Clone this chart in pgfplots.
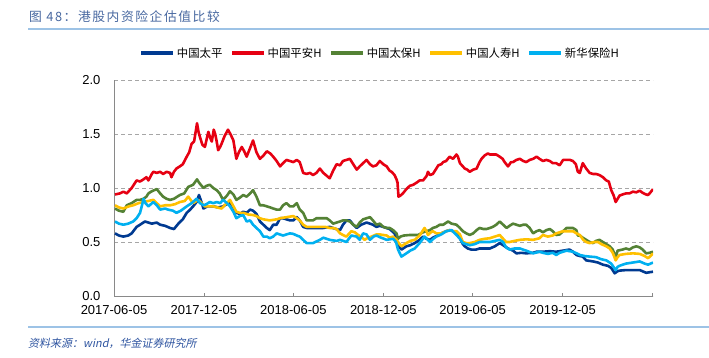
\documentclass[border=0pt]{standalone}
\usepackage{fontspec}
\usepackage{pgfplots}
\pgfplotsset{compat=1.18}
\setmainfont{Liberation Sans}
\newfontfamily\cjk{Noto Sans CJK SC}
\newfontfamily\cjktitle[LetterSpace=12]{Noto Sans CJK SC}
\newfontfamily\cjkit[FakeSlant=0.2]{Noto Sans CJK SC}
\definecolor{cTP}{RGB}{0,58,145}
\definecolor{cPA}{RGB}{230,0,18}
\definecolor{cTB}{RGB}{84,130,53}
\definecolor{cRS}{RGB}{255,192,0}
\definecolor{cXH}{RGB}{0,176,240}
\definecolor{titlec}{RGB}{72,104,160}
\definecolor{rulec}{RGB}{157,195,230}
\definecolor{srcc}{RGB}{46,84,160}
\definecolor{axc}{RGB}{137,137,137}
\definecolor{gridc}{RGB}{166,166,166}
\begin{document}
\begin{tikzpicture}
\path[use as bounding box] (0pt,0pt) rectangle (709pt,357pt);
\node[anchor=west,inner sep=0pt,text=titlec] at (29pt,340pt) {\cjktitle\fontsize{12.8}{14}\selectfont 图 48：港股内资险企估值比较};
\draw[rulec,line width=1.6pt] (28pt,328pt) -- (709pt,328pt);
\draw[rulec,line width=1.6pt] (28pt,30pt) -- (709pt,30pt);
\node[anchor=west,inner sep=0pt,text=srcc] at (28pt,14pt) {\cjkit\fontsize{11}{13}\selectfont 资料来源：wind，华金证券研究所};
\begin{axis}[
  at={(114pt,61pt)}, anchor=south west,
  scale only axis, width=539pt, height=216pt,
  xmin=0, xmax=1097, ymin=0, ymax=2,
  axis x line*=bottom, axis y line*=left,
  axis line style={axc,line width=0.8pt},
  xtick={0,183,365,548,730,913,1096},
  xticklabels={2017-06-05,2017-12-05,2018-06-05,2018-12-05,2019-06-05,2019-12-05,{}},
  ytick={0,0.5,1,1.5,2},
  /pgf/number format/assume math mode=true,
  yticklabel style={/pgf/number format/fixed,/pgf/number format/fixed zerofill,/pgf/number format/precision=1,xshift=-10pt},
  tick label style={font=\fontsize{13}{15}\selectfont},
  xticklabel style={yshift=-6pt},
  tick align=inside,
  x tick style={axc,line width=0.8pt}, major tick length=3pt,
  y tick style={draw=none},
  ymajorgrids,
  major grid style={gridc,dash pattern=on 4pt off 3pt,line width=0.9pt},
  legend columns=5,
  legend style={at={(0.494,1.125)},anchor=center,draw=none,fill=none,
    font=\cjk\fontsize{11.4}{13}\selectfont,
    /tikz/every even column/.append style={column sep=6pt},
    inner sep=0pt},
  legend image code/.code={\draw[#1,line width=3.2pt] (0pt,0pt) -- (32pt,0pt);},
  every axis plot/.append style={line width=2.6pt,line join=round},
]
% 中国太平
\addplot[cTP] coordinates {
(2,0.58)(10,0.56)(19,0.55)(29,0.56)(36,0.58)(46,0.64)(53,0.66)(63,0.69)(70,0.68)(77,0.67)
(87,0.68)(94,0.66)(104,0.65)(114,0.63)(122,0.62)(131,0.67)(140,0.71)(148,0.77)(155,0.80)(161,0.83)
(168,0.87)(173,0.935)(178,0.87)(182,0.81)(190,0.83)(202,0.83)(212,0.82)(222,0.83)(236,0.87)(243,0.82)
(249,0.77)(256,0.76)(263,0.78)(270,0.77)(277,0.80)(283,0.79)(290,0.76)(297,0.69)(304,0.66)(311,0.63)
(317,0.61)(324,0.66)(331,0.66)(338,0.72)(344,0.72)(358,0.70)(365,0.70)(372,0.73)(378,0.70)(385,0.64)
(392,0.63)(405,0.63)(419,0.63)(426,0.63)(439,0.64)(452,0.62)(460,0.61)(466,0.66)(473,0.70)(480,0.70)
(487,0.66)(494,0.63)(503,0.66)(514,0.68)(521,0.67)(527,0.66)(534,0.64)(541,0.65)(548,0.64)(561,0.62)
(571,0.58)(578,0.47)(585,0.43)(595,0.46)(603,0.47)(612,0.49)(622,0.52)(629,0.55)(636,0.53)(643,0.52)
(649,0.54)(656,0.555)(666,0.58)(676,0.60)(683,0.61)(690,0.60)(697,0.59)(704,0.535)(710,0.48)(714,0.46)
(720,0.44)(727,0.43)(737,0.43)(744,0.44)(755,0.44)(765,0.44)(775,0.46)(785,0.49)(792,0.47)(802,0.44)
(812,0.42)(819,0.395)(829,0.40)(839,0.395)(853,0.40)(860,0.41)(873,0.41)(887,0.415)(900,0.41)(914,0.42)
(927,0.43)(934,0.41)(941,0.38)(948,0.37)(954,0.365)(961,0.33)(975,0.32)(985,0.31)(995,0.29)(1005,0.28)
(1012,0.26)(1019,0.21)(1025,0.23)(1029,0.235)(1042,0.24)(1056,0.24)(1070,0.24)(1083,0.215)(1090,0.22)(1097,0.225)
};
\addlegendentry{中国太平}
% 中国平安H
\addplot[cPA] coordinates {
(2,0.94)(12,0.95)(19,0.966)(26,0.95)(36,1.00)(46,1.07)(53,1.06)(60,1.08)(66,1.10)(70,1.07)
(77,1.13)(80,1.15)(87,1.14)(94,1.15)(100,1.13)(107,1.15)(114,1.14)(117,1.10)(122,1.15)(127,1.18)
(134,1.20)(140,1.22)(148,1.29)(153,1.33)(158,1.41)(163,1.43)(169,1.60)(172,1.52)(175,1.47)(180,1.40)
(185,1.38)(190,1.48)(192,1.52)(197,1.45)(199,1.43)(203,1.54)(206,1.50)(209,1.43)(212,1.35)(216,1.38)
(219,1.41)(225,1.48)(232,1.54)(238,1.49)(243,1.44)(249,1.27)(254,1.33)(260,1.38)(265,1.34)(270,1.29)
(277,1.37)(283,1.44)(290,1.33)(297,1.27)(304,1.30)(311,1.34)(318,1.32)(324,1.29)(331,1.25)(338,1.20)
(344,1.23)(351,1.26)(358,1.25)(365,1.24)(372,1.26)(378,1.24)(385,1.14)(392,1.13)(399,1.14)(405,1.12)
(412,1.14)(419,1.18)(426,1.14)(439,1.09)(446,1.16)(453,1.22)(460,1.21)(466,1.25)(473,1.26)(480,1.27)
(487,1.22)(494,1.17)(500,1.20)(507,1.23)(514,1.26)(521,1.22)(527,1.20)(534,1.21)(541,1.25)(548,1.22)
(555,1.20)(561,1.16)(565,1.15)(571,1.12)(575,1.08)(577,1.05)(579,0.92)(583,0.93)(588,0.95)(595,0.99)
(602,1.02)(609,1.03)(616,1.05)(622,1.07)(629,1.07)(636,1.11)(639,1.15)(643,1.12)(649,1.13)(656,1.18)
(660,1.21)(666,1.22)(670,1.24)(676,1.25)(683,1.29)(690,1.27)(697,1.31)(700,1.29)(704,1.23)(710,1.20)
(714,1.18)(719,1.17)(724,1.15)(731,1.17)(738,1.18)(744,1.24)(748,1.27)(754,1.30)(761,1.32)(765,1.31)
(771,1.31)(778,1.31)(785,1.29)(791,1.27)(795,1.24)(802,1.20)(808,1.24)(812,1.24)(819,1.26)(826,1.27)
(833,1.25)(839,1.24)(846,1.26)(853,1.27)(860,1.29)(866,1.27)(873,1.25)(880,1.26)(887,1.25)(893,1.23)
(900,1.23)(907,1.21)(914,1.26)(921,1.26)(928,1.26)(934,1.25)(940,1.22)(944,1.15)(948,1.14)(954,1.23)
(961,1.18)(968,1.14)(975,1.13)(981,1.13)(988,1.12)(995,1.10)(1002,1.07)(1007,1.06)(1012,0.98)(1017,0.93)
(1021,0.87)(1025,0.90)(1029,0.93)(1035,0.94)(1042,0.95)(1049,0.95)(1056,0.966)(1063,0.96)(1070,0.975)(1076,0.955)
(1083,0.94)(1087,0.935)(1092,0.96)(1097,0.99)
};
\addlegendentry{中国平安H}
% 中国太保H
\addplot[cTB] coordinates {
(2,0.81)(10,0.79)(19,0.78)(26,0.84)(36,0.86)(46,0.89)(53,0.89)(60,0.90)(66,0.92)(70,0.95)
(77,0.97)(87,0.99)(94,0.95)(100,0.92)(107,0.90)(114,0.89)(122,0.90)(134,0.935)(143,0.95)(151,1.01)
(161,1.03)(169,1.08)(173,1.05)(182,1.00)(188,1.02)(195,1.03)(202,1.00)(209,0.98)(215,0.95)(222,0.89)
(230,0.93)(236,0.97)(243,0.94)(249,0.89)(256,0.91)(263,0.935)(270,0.92)(277,0.95)(283,0.98)(290,0.92)
(297,0.84)(304,0.84)(311,0.83)(318,0.82)(324,0.81)(331,0.80)(338,0.80)(344,0.84)(351,0.86)(358,0.83)
(365,0.83)(372,0.86)(378,0.80)(385,0.77)(392,0.70)(399,0.70)(405,0.70)(412,0.72)(419,0.72)(426,0.72)
(433,0.72)(439,0.70)(446,0.67)(453,0.68)(460,0.69)(466,0.70)(473,0.70)(480,0.69)(487,0.66)(494,0.64)
(500,0.68)(507,0.71)(514,0.72)(521,0.73)(527,0.70)(534,0.66)(541,0.67)(548,0.64)(555,0.63)(561,0.63)
(568,0.61)(575,0.58)(578,0.53)(583,0.55)(590,0.56)(602,0.565)(612,0.565)(619,0.565)(629,0.59)(636,0.60)
(643,0.61)(649,0.63)(656,0.64)(663,0.66)(670,0.66)(680,0.69)(687,0.67)(697,0.66)(704,0.63)(710,0.60)
(717,0.58)(724,0.565)(731,0.58)(738,0.61)(744,0.63)(752,0.62)(758,0.62)(765,0.63)(771,0.64)(778,0.66)
(785,0.69)(792,0.66)(799,0.63)(805,0.65)(812,0.67)(819,0.66)(826,0.65)(833,0.66)(839,0.66)(846,0.63)
(853,0.58)(860,0.60)(866,0.61)(873,0.59)(880,0.61)(887,0.62)(893,0.60)(900,0.565)(907,0.57)(914,0.60)
(921,0.63)(927,0.63)(934,0.63)(941,0.61)(944,0.56)(948,0.56)(954,0.54)(961,0.52)(968,0.50)(975,0.49)
(981,0.51)(988,0.52)(995,0.50)(1002,0.48)(1009,0.46)(1015,0.43)(1021,0.36)(1025,0.42)(1035,0.43)(1042,0.44)
(1049,0.43)(1056,0.45)(1063,0.46)(1070,0.45)(1076,0.43)(1083,0.395)(1090,0.40)(1097,0.41)
};
\addlegendentry{中国太保H}
% 中国人寿H
\addplot[cRS] coordinates {
(2,0.84)(10,0.82)(19,0.81)(30,0.83)(39,0.84)(50,0.86)(60,0.87)(70,0.88)(80,0.89)(87,0.86)
(94,0.83)(104,0.84)(114,0.84)(124,0.85)(134,0.87)(144,0.88)(151,0.92)(161,0.86)(168,0.88)(171,0.89)
(178,0.86)(185,0.83)(195,0.83)(202,0.83)(210,0.82)(219,0.81)(225,0.84)(236,0.89)(242,0.84)(249,0.78)
(256,0.77)(263,0.77)(273,0.755)(283,0.75)(290,0.74)(297,0.72)(304,0.71)(317,0.70)(331,0.71)(338,0.72)
(351,0.73)(365,0.74)(372,0.72)(378,0.70)(385,0.66)(392,0.64)(405,0.64)(419,0.64)(430,0.64)(439,0.63)
(446,0.63)(453,0.62)(460,0.58)(466,0.565)(473,0.55)(483,0.60)(490,0.59)(497,0.565)(503,0.55)(510,0.52)
(517,0.54)(524,0.55)(534,0.57)(541,0.57)(548,0.565)(555,0.56)(561,0.54)(568,0.55)(575,0.52)(578,0.50)
(585,0.46)(595,0.49)(603,0.51)(612,0.52)(622,0.56)(632,0.63)(636,0.60)(639,0.565)(645,0.59)(649,0.60)
(656,0.58)(666,0.58)(676,0.60)(683,0.61)(690,0.60)(697,0.60)(704,0.57)(710,0.50)(717,0.49)(724,0.49)
(734,0.50)(744,0.52)(755,0.53)(765,0.535)(775,0.55)(785,0.565)(792,0.53)(798,0.50)(805,0.50)(815,0.51)
(826,0.52)(839,0.525)(853,0.52)(866,0.535)(873,0.565)(883,0.55)(893,0.56)(900,0.58)(914,0.60)(927,0.60)
(934,0.60)(941,0.58)(948,0.565)(955,0.52)(961,0.50)(968,0.49)(978,0.50)(985,0.50)(992,0.48)(1002,0.46)
(1009,0.44)(1015,0.40)(1021,0.33)(1025,0.36)(1029,0.38)(1042,0.39)(1056,0.395)(1070,0.39)(1080,0.37)(1087,0.35)
(1092,0.37)(1097,0.395)
};
\addlegendentry{中国人寿H}
% 新华保险H
\addplot[cXH] coordinates {
(2,0.69)(10,0.67)(19,0.66)(29,0.67)(39,0.69)(46,0.72)(53,0.77)(57,0.84)(60,0.90)(64,0.86)
(70,0.83)(80,0.87)(87,0.84)(94,0.80)(104,0.81)(110,0.80)(120,0.79)(127,0.77)(136,0.79)(148,0.83)
(158,0.86)(168,0.90)(175,0.86)(182,0.84)(188,0.85)(195,0.87)(202,0.86)(209,0.87)(216,0.86)(222,0.89)
(230,0.86)(236,0.83)(243,0.78)(249,0.72)(256,0.74)(263,0.75)(270,0.69)(277,0.70)(283,0.66)(290,0.63)
(297,0.60)(304,0.55)(311,0.55)(317,0.535)(324,0.55)(331,0.58)(344,0.56)(358,0.58)(365,0.575)(372,0.56)
(378,0.55)(385,0.52)(392,0.49)(405,0.49)(419,0.52)(426,0.54)(439,0.52)(453,0.51)(460,0.52)(473,0.50)
(483,0.56)(494,0.55)(500,0.52)(507,0.58)(514,0.57)(521,0.52)(528,0.55)(534,0.56)(541,0.545)(555,0.52)
(568,0.53)(574,0.50)(578,0.43)(585,0.365)(595,0.395)(603,0.42)(612,0.44)(622,0.49)(632,0.55)(639,0.52)
(643,0.50)(650,0.53)(656,0.55)(666,0.57)(676,0.60)(687,0.61)(697,0.565)(704,0.53)(710,0.49)(717,0.48)
(724,0.47)(734,0.48)(744,0.50)(755,0.50)(765,0.50)(775,0.51)(785,0.52)(792,0.50)(798,0.45)(805,0.43)
(815,0.44)(826,0.44)(839,0.42)(853,0.395)(866,0.41)(873,0.40)(883,0.39)(893,0.40)(900,0.38)(907,0.40)
(914,0.41)(921,0.42)(934,0.41)(944,0.39)(948,0.38)(958,0.37)(968,0.365)(981,0.36)(992,0.34)(1002,0.33)
(1012,0.30)(1021,0.24)(1025,0.27)(1029,0.28)(1042,0.30)(1056,0.31)(1070,0.32)(1080,0.30)(1087,0.29)(1097,0.31)
};
\addlegendentry{新华保险H}
\end{axis}
\end{tikzpicture}
\end{document}
